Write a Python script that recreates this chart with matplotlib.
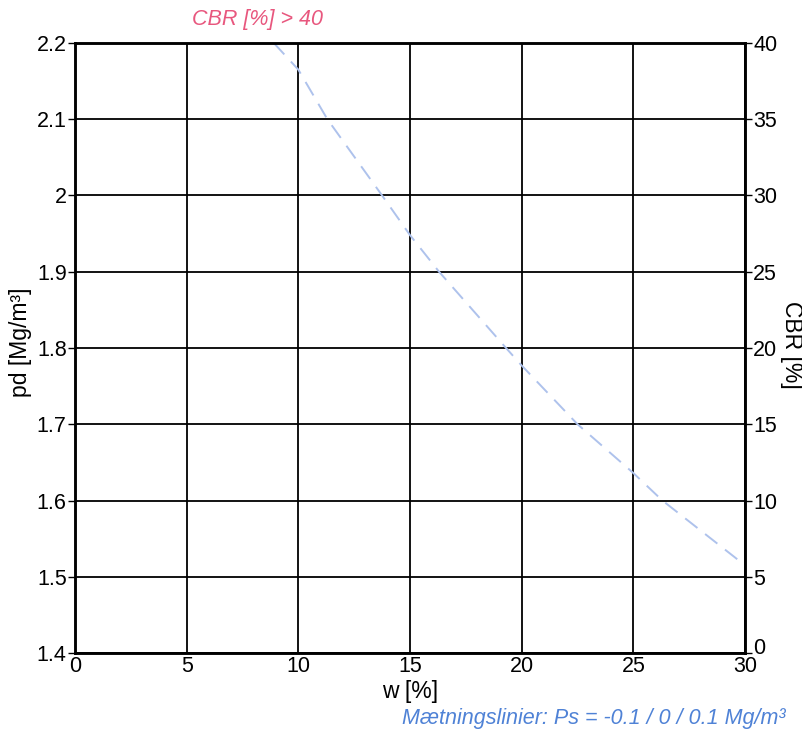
import numpy as np
import matplotlib.pyplot as plt
import matplotlib.transforms as mtransforms

plt.rcParams['font.family'] = ['Liberation Sans', 'DejaVu Sans']

# saturation line
w_sat = [8.9, 10, 11.3, 13.75, 15, 16.3, 19.3, 20, 22.5, 25, 26.3, 30]
rho_sat = [2.2, 2.165, 2.1, 2.0, 1.948, 1.9, 1.8, 1.777, 1.7, 1.636, 1.6, 1.515]

x_ticks = [0, 5, 10, 15, 20, 25, 30]
y_ticks = [1.4, 1.5, 1.6, 1.7, 1.8, 1.9, 2.0, 2.1, 2.2]
y_tick_labels = ['1.4', '1.5', '1.6', '1.7', '1.8', '1.9', '2', '2.1', '2.2']
cbr_ticks = [0, 5, 10, 15, 20, 25, 30, 35, 40]

fig = plt.figure(figsize=(8.03, 7.32), dpi=100)
ax = fig.add_axes([0.0934, 0.1079, 0.8344, 0.8334])

ax.plot(w_sat, rho_sat, color='#aec2ec', lw=1.4, dashes=(8, 5))

ax.set_xlim(0, 30)
ax.set_ylim(1.4, 2.2)
ax.set_xticks(x_ticks)
ax.set_yticks(y_ticks)
ax.set_yticklabels(y_tick_labels)
ax.grid(True, color='black', lw=1.3)
for s in ax.spines.values():
    s.set_linewidth(1.8)
ax.tick_params(axis='x', length=0, pad=2, labelsize=15.5)
ax.tick_params(axis='y', length=5, width=1, pad=1, labelsize=15.5)
ax.set_xlabel('w [%]', fontsize=16.5, labelpad=2)
ax.set_ylabel('pd [Mg/m³]', fontsize=16.5, va='center')
ax.yaxis.set_label_coords(-0.082, 0.51)

ax2 = ax.twinx()
ax2.set_ylim(0, 40)
ax2.set_yticks(cbr_ticks)
ax2.tick_params(axis='y', length=5, width=1, pad=1, labelsize=15.5)
ax2.set_ylabel('CBR [%]', fontsize=16.5, rotation=-90, va='center')
ax2.yaxis.set_label_coords(1.07, 0.505)
for s in ax2.spines.values():
    s.set_linewidth(1.8)

# the right-hand "0" sits a little higher than the others
zero_lab = ax2.get_yticklabels()[0]
zero_lab.set_transform(zero_lab.get_transform() +
                       mtransforms.ScaledTranslation(0, 5 / 72, fig.dpi_scale_trans))

fig.text(0.321, 0.973, 'CBR [%] > 40', color='#e8577e', style='italic',
         fontsize=15.5, ha='center', va='center')
fig.text(0.978, 0.019, 'Mætningslinier: Ps = -0.1 / 0 / 0.1 Mg/m³', color='#4f82d6',
         style='italic', fontsize=15.5, ha='right', va='center')

fig.savefig('out.png', dpi=100)
